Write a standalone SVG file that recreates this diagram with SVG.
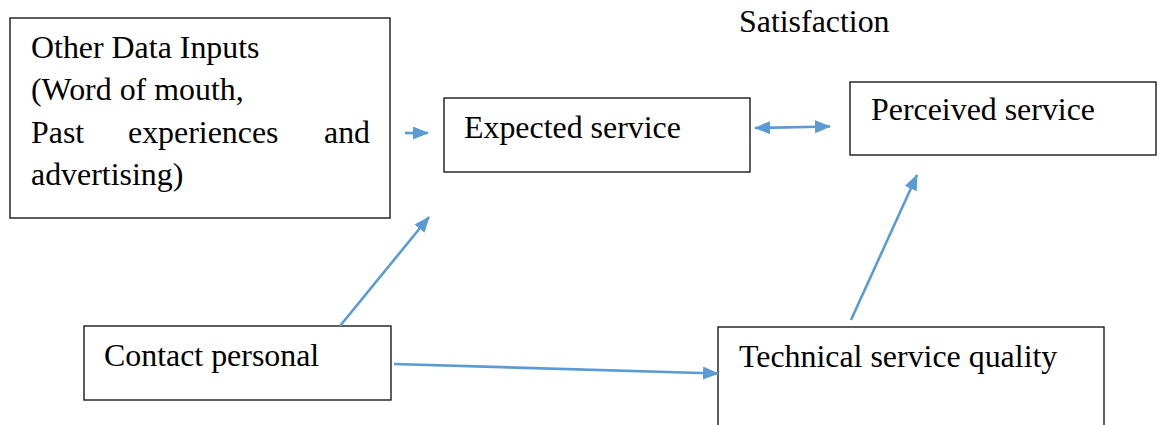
<svg xmlns="http://www.w3.org/2000/svg" width="1160" height="425" viewBox="0 0 1160 425">
  <style>
    .box { fill: #ffffff; stroke: #1a1a1a; stroke-width: 1.4; }
    .lbl { font-family: "Liberation Serif", "Times New Roman", serif; font-size: 31.9px; fill: #000000; }
    .conn { stroke: #5b9bd5; stroke-width: 2.6; fill: none; }
  </style>
  <defs>
    <marker id="head" markerUnits="userSpaceOnUse" markerWidth="16" markerHeight="14" refX="15" refY="6.5" orient="auto-start-reverse" viewBox="0 0 16 14">
      <path d="M0,0 L16,6.5 L0,13 z" fill="#5b9bd5"/>
    </marker>
  </defs>
  <rect width="1160" height="425" fill="#ffffff"/>

  <text class="lbl" x="739" y="32">Satisfaction</text>

  <g id="other-inputs">
    <rect class="box" x="10" y="18" width="380" height="200"/>
    <text class="lbl" x="31" y="58">Other Data Inputs</text>
    <text class="lbl" x="31" y="100">(Word of mouth,</text>
    <text class="lbl" y="143"><tspan x="31">Past</tspan><tspan x="128">experiences</tspan><tspan x="324">and</tspan></text>
    <text class="lbl" x="31" y="185">advertising)</text>
  </g>

  <g id="expected-service">
    <rect class="box" x="444" y="98" width="306" height="74"/>
    <text class="lbl" x="464" y="138">Expected service</text>
  </g>

  <g id="perceived-service">
    <rect class="box" x="850" y="82" width="306" height="73"/>
    <text class="lbl" x="871" y="120">Perceived service</text>
  </g>

  <g id="contact-personal">
    <rect class="box" x="84" y="326" width="307" height="74"/>
    <text class="lbl" x="104" y="366">Contact personal</text>
  </g>

  <g id="technical-quality">
    <rect class="box" x="718" y="327" width="386" height="110"/>
    <text class="lbl" x="739" y="367">Technical service quality</text>
  </g>

  <g id="connectors">
    <line class="conn" x1="405" y1="133" x2="428" y2="133" marker-end="url(#head)"/>
    <line class="conn" x1="755" y1="128" x2="830" y2="126.5" marker-start="url(#head)" marker-end="url(#head)"/>
    <line class="conn" x1="340" y1="326" x2="429" y2="217" marker-end="url(#head)"/>
    <line class="conn" x1="394" y1="364" x2="718" y2="373.5" marker-end="url(#head)"/>
    <line class="conn" x1="851" y1="320" x2="917" y2="175" marker-end="url(#head)"/>
  </g>
</svg>
